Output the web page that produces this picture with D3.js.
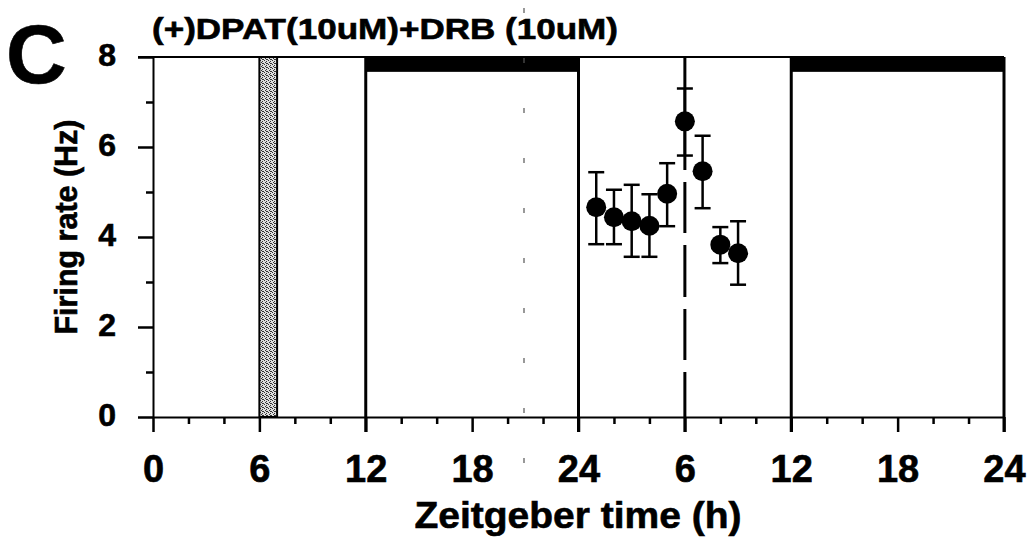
<!DOCTYPE html>
<html>
<head>
<meta charset="utf-8">
<script src="https://cdn.jsdelivr.net/npm/d3@7/dist/d3.min.js"></script>
<style>
  body { margin: 0; background: #fff; }
  text { font-family: Arial, "Liberation Sans", sans-serif; font-weight: bold; fill: #000; stroke: #000; stroke-width: 0.6px; }
</style>
</head>
<body>
<script>
// firing rate, ZT hours counted over two days (0-48)
const hours = [25, 26, 27, 28, 29, 30, 31, 32, 33];
const rate = [4.66, 4.44, 4.35, 4.25, 4.96, 6.57, 5.46, 3.83, 3.64];
const errHigh = [5.44, 5.05, 5.16, 4.95, 5.64, 7.30, 6.25, 4.22, 4.35];
const errLow = [3.84, 3.84, 3.56, 3.56, 4.24, 5.81, 4.64, 3.42, 2.94];

const majorTicks = [0, 6, 12, 18, 24, 30, 36, 42, 48];
const minorTicks = [2, 4, 8, 10, 14, 16, 20, 22, 26, 28, 32, 34, 38, 40, 44, 46];
const yTicks = [0, 2, 4, 6, 8];
const yMinor = [1, 3, 5, 7];

const darkPeriods = [[12, 24], [36, 48]];
const drugWindow = [6, 7];
const solidLines = [12, 24, 36, 48];
const dashedLine = 30;

const width = 1031, height = 543;
const x = d3.scaleLinear().domain([0, 48]).range([153, 1004]);
const y = d3.scaleLinear().domain([0, 8]).range([417, 57]);

const svg = d3.select('body').append('svg')
  .attr('width', width).attr('height', height);

svg.append('rect').attr('width', width).attr('height', height).attr('fill', '#fff');

// stipple fill for drug application bar
const pat = svg.append('defs').append('pattern')
  .attr('id', 'stip').attr('patternUnits', 'userSpaceOnUse')
  .attr('width', 4).attr('height', 4);
pat.append('rect').attr('width', 4).attr('height', 4).attr('fill', '#dedede');
[[0, 0], [2, 1], [1, 2], [3, 3], [2, 3]].forEach(p => {
  pat.append('rect').attr('x', p[0]).attr('y', p[1]).attr('width', 1).attr('height', 1).attr('fill', '#333');
});

svg.append('rect')
  .attr('x', x(drugWindow[0])).attr('y', y(8))
  .attr('width', x(drugWindow[1]) - x(drugWindow[0]))
  .attr('height', y(0) - y(8))
  .attr('fill', 'url(#stip)')
  .attr('stroke', '#000').attr('stroke-width', 2);

// dark phase bars
svg.selectAll('.dark')
  .data(darkPeriods)
  .enter().append('rect')
  .attr('class', 'dark')
  .attr('x', d => x(d[0]))
  .attr('y', y(8))
  .attr('width', d => x(d[1]) - x(d[0]))
  .attr('height', y(7.67) - y(8))
  .attr('fill', '#000');

// top frame line
svg.append('line')
  .attr('x1', 138).attr('x2', x(48))
  .attr('y1', y(8)).attr('y2', y(8))
  .attr('stroke', '#000').attr('stroke-width', 2);

// vertical phase lines
svg.selectAll('.vline')
  .data(solidLines)
  .enter().append('line')
  .attr('class', 'vline')
  .attr('x1', d => x(d)).attr('x2', d => x(d))
  .attr('y1', y(8)).attr('y2', y(0) + 15)
  .attr('stroke', '#000').attr('stroke-width', 3);

svg.append('line')
  .attr('x1', x(dashedLine)).attr('x2', x(dashedLine))
  .attr('y1', y(8)).attr('y2', y(0) + 15)
  .attr('stroke', '#000').attr('stroke-width', 3)
  .attr('stroke-dasharray', '113,12,51,12,52,12,51,12,100');

// faint scan streak
svg.append('line')
  .attr('x1', 524).attr('x2', 524)
  .attr('y1', 8).attr('y2', height)
  .attr('stroke', '#555').attr('stroke-width', 1.2)
  .attr('stroke-dasharray', '5,45');

// x axis
const fmtX = d => d === 0 ? '0' : (d % 24 === 0 ? '24' : String(d % 24));
const gx = svg.append('g')
  .attr('transform', `translate(0,${y(0)})`)
  .call(d3.axisBottom(x).tickValues(majorTicks).tickSize(15).tickSizeOuter(0).tickFormat(fmtX));
gx.select('.domain').attr('stroke-width', 2);
gx.selectAll('.tick line').attr('stroke-width', 2.5);
gx.selectAll('.tick text')
  .attr('y', 65).attr('dy', 0)
  .attr('font-size', 38)
  .attr('font-family', 'Arial, "Liberation Sans", sans-serif');

const gxm = svg.append('g')
  .attr('transform', `translate(0,${y(0)})`)
  .call(d3.axisBottom(x).tickValues(minorTicks).tickSize(7).tickFormat(''));
gxm.select('.domain').remove();
gxm.selectAll('.tick line').attr('stroke-width', 2.5);

// y axis
const gy = svg.append('g')
  .attr('transform', `translate(${x(0)},0)`)
  .call(d3.axisLeft(y).tickValues(yTicks).tickSize(15).tickSizeOuter(0).tickPadding(22));
gy.select('.domain').attr('stroke-width', 2);
gy.selectAll('.tick line').attr('stroke-width', 2.5);
gy.selectAll('.tick text')
  .attr('font-size', 32)
  .attr('dy', '0.28em')
  .attr('font-family', 'Arial, "Liberation Sans", sans-serif');

const gym = svg.append('g')
  .attr('transform', `translate(${x(0)},0)`)
  .call(d3.axisLeft(y).tickValues(yMinor).tickSize(7).tickFormat(''));
gym.select('.domain').remove();
gym.selectAll('.tick line').attr('stroke-width', 2.5);

// error bars
const pts = hours.map((h, i) => ({h, v: rate[i], hi: errHigh[i], lo: errLow[i]}));
const eb = svg.append('g').attr('stroke', '#000').attr('stroke-width', 2.5);
eb.selectAll('.stem')
  .data(pts)
  .enter().append('line')
  .attr('x1', d => x(d.h)).attr('x2', d => x(d.h))
  .attr('y1', d => y(d.hi)).attr('y2', d => y(d.lo));
eb.selectAll('.capHi')
  .data(pts)
  .enter().append('line')
  .attr('x1', d => x(d.h) - 8).attr('x2', d => x(d.h) + 8)
  .attr('y1', d => y(d.hi)).attr('y2', d => y(d.hi));
eb.selectAll('.capLo')
  .data(pts)
  .enter().append('line')
  .attr('x1', d => x(d.h) - 8).attr('x2', d => x(d.h) + 8)
  .attr('y1', d => y(d.lo)).attr('y2', d => y(d.lo));

svg.selectAll('circle')
  .data(pts)
  .enter().append('circle')
  .attr('cx', d => x(d.h))
  .attr('cy', d => y(d.v))
  .attr('r', 10)
  .attr('fill', '#000');

// texts
svg.append('text')
  .attr('x', 6).attr('y', 83)
  .attr('font-size', 84)
  .text('C');

svg.append('text')
  .attr('x', 152).attr('y', 39)
  .attr('font-size', 29)
  .attr('textLength', 466).attr('lengthAdjust', 'spacingAndGlyphs')
  .text('(+)DPAT(10uM)+DRB (10uM)');

svg.append('text')
  .attr('x', 578).attr('y', 528)
  .attr('text-anchor', 'middle')
  .attr('font-size', 37)
  .attr('textLength', 327).attr('lengthAdjust', 'spacingAndGlyphs')
  .text('Zeitgeber time (h)');

svg.append('text')
  .attr('transform', 'translate(77,227) rotate(-90)')
  .attr('text-anchor', 'middle')
  .attr('font-size', 31)
  .attr('textLength', 215).attr('lengthAdjust', 'spacingAndGlyphs')
  .text('Firing rate (Hz)');
</script>
</body>
</html>
